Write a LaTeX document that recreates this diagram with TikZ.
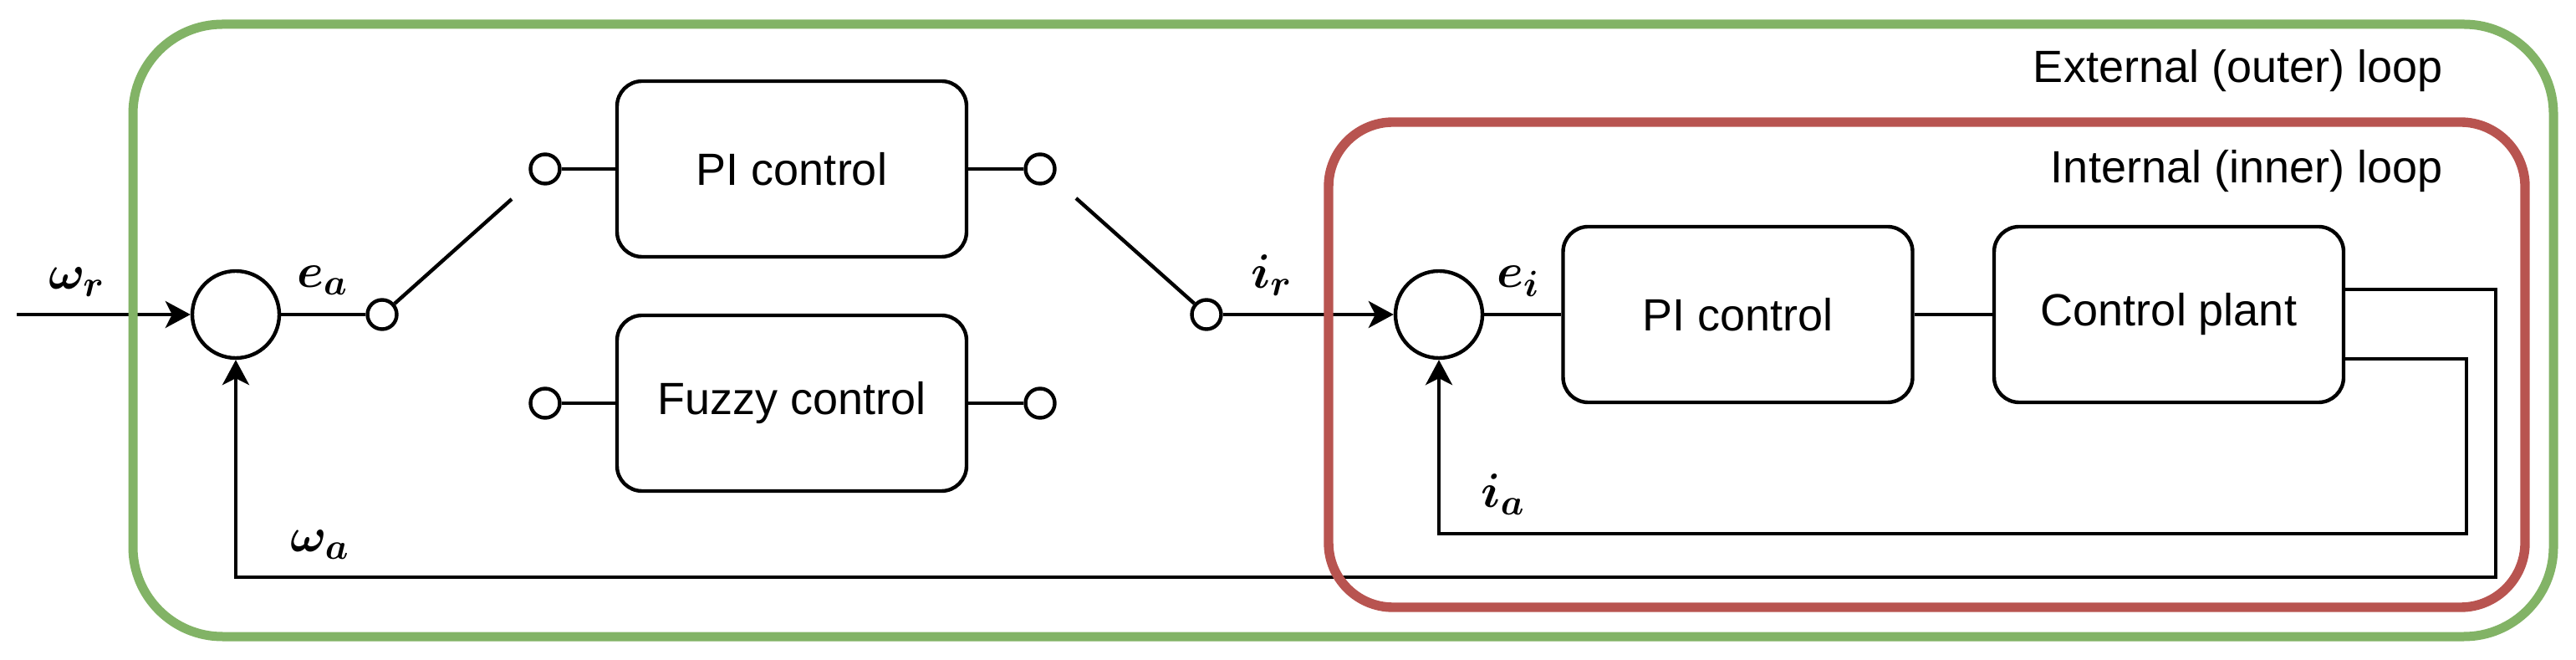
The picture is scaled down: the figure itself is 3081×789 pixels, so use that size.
\documentclass[tikz,border=0pt]{standalone}
\usepackage{fontspec}
\setmainfont{Liberation Sans}
\usepackage{amsmath}
\usepackage{bm}
\usetikzlibrary{arrows.meta}
\definecolor{loopgreen}{HTML}{82B366}
\definecolor{loopred}{HTML}{B85450}
\begin{document}
\begin{tikzpicture}[x=0.25pt,y=-0.25pt,
  wire/.style={line width=1.1pt},
  arr/.style={wire,-{Stealth[length=7.5pt,width=8pt,inset=2pt]}},
  blockbox/.style={draw,line width=1.1pt,rounded corners=7.5pt,minimum width=104.5pt,minimum height=52.5pt,font=\fontsize{13.5}{16}\selectfont,inner sep=0},
  sumnode/.style={draw,circle,line width=1.1pt,minimum size=26pt,inner sep=0},
  contact/.style={draw,circle,line width=1.1pt,minimum size=8.75pt,inner sep=0,fill=white},
  mathlabel/.style={font=\fontsize{15}{18}\selectfont,inner sep=0},
  looptitle/.style={font=\fontsize{13.5}{16}\selectfont,inner sep=0,anchor=east}
]
\useasboundingbox (0,0) rectangle (3081,789);
\node[looptitle] (tout) at (2922,85) {External (outer) loop};
\node[looptitle] (tin) at (2922,205) {Internal (inner) loop};
% nodes
\coordinate (in) at (20,376);
\node[sumnode] (s1) at (282,376) {};
\node[contact] (ca) at (457,376) {};
\coordinate (swa) at (612,238);
\node[contact] (pcl) at (652,202) {};
\node[contact] (fcl) at (652,482) {};
\node[blockbox] (pi1) at (947,202) {PI control};
\node[blockbox] (fz) at (947,482) {Fuzzy control};
\node[contact] (pcr) at (1244,202) {};
\node[contact] (fcr) at (1244,482) {};
\coordinate (swb) at (1287,237);
\node[contact] (cb) at (1443,376) {};
\node[sumnode] (s2) at (1721,376) {};
\node[blockbox] (pi2) at (2078.5,376) {PI control};
\node[blockbox] (cp) at (2594,376) {Control plant};
\coordinate (oy) at (0,346);
\coordinate (iy) at (0,429);
\coordinate (oc) at (2985,690);
\coordinate (ic) at (2950,638);
% connectors
\draw[arr] (in) -- (s1);
\draw[wire] (s1) -- (ca);
\draw[wire] (ca.41.7) -- (swa);
\draw[wire] (pcl) -- (pi1);
\draw[wire] (pi1) -- (pcr);
\draw[wire] (fcl) -- (fz);
\draw[wire] (fz) -- (fcr);
\draw[wire] (swb) -- (cb.138);
\draw[arr] (cb) -- (s2);
\draw[wire] (s2) -- (pi2);
\draw[wire] (pi2) -- (cp);
\draw[arr] (cp.east |- oy) -| (oc) -| (s1.south);
\draw[arr] (cp.east |- iy) -| (ic) -| (s2.south);
% labels
\node[mathlabel] (lwr) at (92,337) {$\bm{\omega_r}$};
\node[mathlabel] (lea) at (386,335) {$\bm{e_a}$};
\node[mathlabel] (lir) at (1521,329) {$\bm{i_r}$};
\node[mathlabel] (lei) at (1816,336) {$\bm{e_i}$};
\node[mathlabel] (lia) at (1798,591) {$\bm{i_a}$};
\node[mathlabel] (lwa) at (383,651) {$\bm{\omega_a}$};
% loops (drawn over the wires, as in the reference)
\draw[loopgreen, line width=2.75pt, rounded corners=26.75pt] (159,29) rectangle (3054,761);
\draw[loopred, line width=2.85pt, rounded corners=19.25pt] (1589,146) rectangle (3020,726);
\end{tikzpicture}
\end{document}
